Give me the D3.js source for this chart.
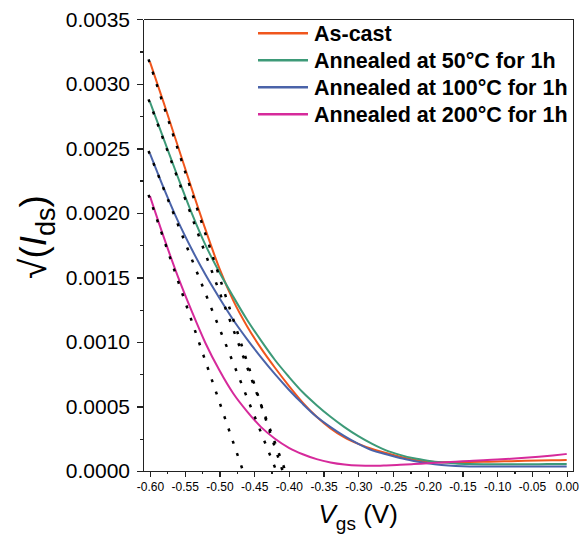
<!DOCTYPE HTML>
<html>
<head>
	<title>sqrt(Ids) vs Vgs</title>
	<meta http-equiv="Content-Type" content="text/html; charset=utf-8">
	<script src="https://cdn.jsdelivr.net/npm/d3@7"></script>
	<style type="text/css">
		body { margin: 0; background: #fff; }
		svg text { font-family: "Liberation Sans", Arial, sans-serif; fill: #000; }
		.axis path, .axis line { stroke: #222; stroke-width: 1.3; shape-rendering: crispEdges; }
		.ytick text { font-size: 21px; }
		.xtick text { font-size: 12px; }
		.curve { fill: none; stroke-width: 2; }
		.fit { fill: none; stroke: #000; stroke-width: 2.5; stroke-dasharray: 3,10; }
		.legend text { font-size: 21.5px; font-weight: bold; }
	</style>
</head>
<body>
	<div id="picture"></div>
	<script>
var width  = 579;
var height = 538;

// gate voltage (V)
var vgs = [-0.60, -0.58, -0.56, -0.54, -0.52, -0.50, -0.48, -0.46, -0.44, -0.42,
           -0.40, -0.38, -0.36, -0.34, -0.32, -0.30, -0.28, -0.26, -0.24, -0.22,
           -0.20, -0.18, -0.16, -0.14, -0.12, -0.10, -0.08, -0.06, -0.04, -0.02, 0.00];

// sqrt(Ids) for each sample
var asCast = [0.00317, 0.00285, 0.00252, 0.00219, 0.00187, 0.00157, 0.00132, 0.00112, 0.00095, 0.00080,
              0.00066, 0.00053, 0.00042, 0.00033, 0.00026, 0.00021, 0.00017, 0.00014, 0.00011, 0.000088,
              0.000073, 0.000067, 0.000067, 0.000069, 0.000071, 0.000074, 0.000076, 0.000079, 0.000081, 0.000083, 0.000085];
var annealed50 = [0.00286, 0.00257, 0.00228, 0.00200, 0.00175, 0.00154, 0.00135, 0.00117, 0.00101, 0.00086,
                  0.00073, 0.00061, 0.00051, 0.00042, 0.00034, 0.00027, 0.00021, 0.00016, 0.000125, 0.000098,
                  0.000080, 0.000067, 0.000059, 0.000055, 0.000053, 0.000052, 0.000052, 0.000053, 0.000053, 0.000054, 0.000054];
var annealed100 = [0.00246, 0.00219, 0.00194, 0.00172, 0.00152, 0.00134, 0.00117, 0.00102, 0.00088, 0.00075,
                   0.00063, 0.00052, 0.00042, 0.00034, 0.00027, 0.00021, 0.00016, 0.00013, 0.00010, 0.000078,
                   0.000060, 0.000047, 0.000039, 0.000035, 0.000034, 0.000034, 0.000034, 0.000034, 0.000034, 0.000034, 0.000034];
var annealed200 = [0.00213, 0.00181, 0.00151, 0.00124, 0.00099, 0.00078, 0.00060, 0.00046, 0.00034, 0.00025,
                   0.00018, 0.00013, 0.000092, 0.000066, 0.000050, 0.000042, 0.000040, 0.000043, 0.000048, 0.000054,
                   0.000060, 0.000066, 0.000072, 0.000078, 0.000084, 0.000089, 0.000095, 0.000102, 0.000110, 0.000120, 0.000132];

var seriesNames  = ["As-cast", "Annealed at 50°C for 1h", "Annealed at 100°C for 1h", "Annealed at 200°C for 1h"];
var seriesColors = ["#f0561d", "#3d9a78", "#4a63a9", "#d62a9b"];

// linear fits: start point and threshold voltage (x intercept)
var fitStartV = [-0.602, -0.602, -0.602, -0.602];
var fitStartI = [0.00319, 0.00288, 0.00248, 0.00214];
var fitVth    = [-0.409, -0.405, -0.418, -0.466];

var xTicks      = [-0.60, -0.55, -0.50, -0.45, -0.40, -0.35, -0.30, -0.25, -0.20, -0.15, -0.10, -0.05, 0.00];
var xTickLabels = ["-0.60", "-0.55", "-0.50", "-0.45", "-0.40", "-0.35", "-0.30", "-0.25", "-0.20", "-0.15", "-0.10", "-0.05", "0.00"];
var yTicks      = [0, 0.0005, 0.0010, 0.0015, 0.0020, 0.0025, 0.0030, 0.0035];
var yTickLabels = ["0.0000", "0.0005", "0.0010", "0.0015", "0.0020", "0.0025", "0.0030", "0.0035"];

var series = [asCast, annealed50, annealed100, annealed200];

var plotL = 143, plotR = 573.3, plotT = 19.3, plotB = 471;

var x = d3.scaleLinear().domain([-0.61, 0.0095]).range([plotL, plotR]);
var y = d3.scaleLinear().domain([0, 0.0035]).range([plotB, plotT]);

var svg = d3.select("#picture")
	.append("svg")
		.attr("width",  width)
		.attr("height", height);

// minor ticks
var xMinor = d3.range(-0.60, 0.001, 0.025);
var yMinor = d3.range(0, 0.00351, 0.00025);

svg.append("g")
	.attr("class", "axis")
	.attr("transform", "translate(0," + plotB + ")")
	.call(d3.axisBottom(x).tickValues(xMinor).tickSize(3).tickSizeOuter(0).tickFormat(""));
svg.append("g")
	.attr("class", "axis")
	.attr("transform", "translate(" + plotL + ",0)")
	.call(d3.axisLeft(y).tickValues(yMinor).tickSize(3).tickSizeOuter(0).tickFormat(""));

// major axes
svg.append("g")
	.attr("class", "axis xtick")
	.attr("transform", "translate(0," + plotB + ")")
	.call(d3.axisBottom(x).tickValues(xTicks).tickSize(6).tickSizeOuter(0).tickPadding(5)
		.tickFormat(function(d, i) { return xTickLabels[i]; }))
	.attr("font-size", null).attr("font-family", null);
svg.append("g")
	.attr("class", "axis ytick")
	.attr("transform", "translate(" + plotL + ",0)")
	.call(d3.axisLeft(y).tickValues(yTicks).tickSize(6).tickSizeOuter(0).tickPadding(7)
		.tickFormat(function(d, i) { return yTickLabels[i]; }))
	.attr("font-size", null).attr("font-family", null);

// frame top / right
svg.append("g")
	.attr("class", "axis")
	.attr("transform", "translate(0," + plotT + ")")
	.call(d3.axisTop(x).tickValues([]).tickSizeOuter(0));
svg.append("g")
	.attr("class", "axis")
	.attr("transform", "translate(" + plotR + ",0)")
	.call(d3.axisRight(y).tickValues([]).tickSizeOuter(0));

var line = d3.line()
	.x(function(d) { return x(d[0]); })
	.y(function(d) { return y(d[1]); })
	.curve(d3.curveMonotoneX);

series.forEach(function(s, k) {
	svg.append("path")
		.attr("class", "curve")
		.attr("stroke", seriesColors[k])
		.attr("d", line(vgs.map(function(v, i) { return [v, s[i]]; })));
});

// dotted linear fits
for (var k = 0; k < 4; k++) {
	svg.append("path")
		.attr("class", "fit")
		.attr("d", d3.line()([[x(fitStartV[k]), y(fitStartI[k])], [x(fitVth[k]), y(0)]]));
}

// legend
var legend = svg.append("g").attr("class", "legend");
seriesNames.forEach(function(name, k) {
	var cy = 33.3 + k * 27;
	legend.append("line")
		.attr("x1", 258).attr("x2", 308)
		.attr("y1", cy).attr("y2", cy)
		.attr("stroke", seriesColors[k])
		.attr("stroke-width", 2.5);
	legend.append("text")
		.attr("x", 314).attr("y", cy + 7.5)
		.text(name);
});

// axis titles
var xt = svg.append("text")
	.attr("x", (plotL + plotR) / 2)
	.attr("y", 523)
	.attr("text-anchor", "middle")
	.style("font-size", "26px");
xt.append("tspan").style("font-style", "italic").text("V");
xt.append("tspan").attr("dy", 7).style("font-size", "19px").text("gs");
xt.append("tspan").attr("dy", -7).text(" (V)");

var yt = svg.append("text")
	.attr("transform", "translate(46,237) rotate(-90)")
	.attr("text-anchor", "middle")
	.style("font-size", "37px");
yt.append("tspan").text("√(");
yt.append("tspan").style("font-style", "italic").text("I");
yt.append("tspan").attr("dy", 9).style("font-size", "27px").text("ds");
yt.append("tspan").attr("dy", -9).text(")");
	</script>
</body>
</html>
